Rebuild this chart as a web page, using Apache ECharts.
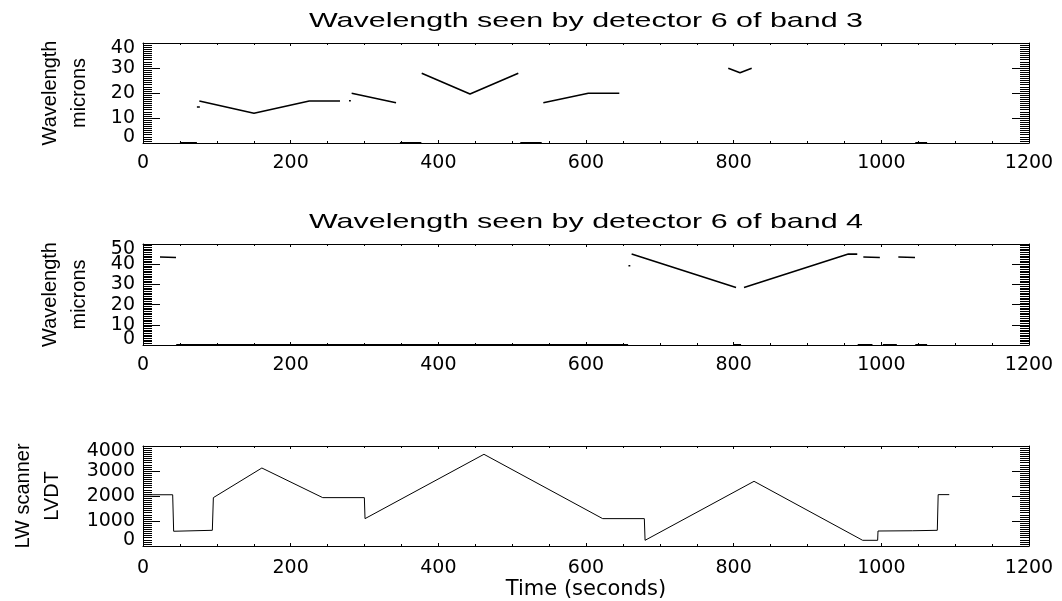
<!DOCTYPE html>
<html>
<head>
<meta charset="utf-8">
<script src="https://cdn.jsdelivr.net/npm/echarts@6/dist/echarts.min.js"></script>
<style>
html,body{margin:0;padding:0;background:#ffffff;}
#chart{width:1062px;height:601px;}
</style>
</head>
<body>
<div id="chart"></div>
<script>
// ---------------- data ----------------
const plotTitles = ['Wavelength seen by detector 6 of band 3', 'Wavelength seen by detector 6 of band 4'];
const timeTicks = [0, 200, 400, 600, 800, 1000, 1200];
const band3Ticks = [0, 10, 20, 30, 40];
const band4Ticks = [0, 10, 20, 30, 40, 50];
const lvdtTicks = [0, 1000, 2000, 3000, 4000];

// band 3 wavelength (microns); null separates segments
const band3Time = [73, 77, null, 76.3, 150.3, 225.2, 266.8, null, 279, 281.5, null, 282.6, 342.7, null,
  377.5, 442.9, 508.3, null, 542.2, 603.1, 645.1, null, 792.7, 808.6, 824.4];
const band3Wave = [14.4, 14.4, null, 16.8, 11.9, 16.8, 16.8, null, 16.9, 16.9, null, 19.9, 16.1, null,
  27.9, 19.6, 27.9, null, 16.1, 19.9, 19.9, null, 29.9, 28.1, 29.9];
// band 3 samples at zero (not seen)
const band3ZeroTime = [50, 73, null, 348, 377, null, 511, 540, null, 1046, 1062];
const band3ZeroWave = [0, 0, null, 0, 0, null, 0, 0, null, 0, 0];

// band 4 wavelength (microns)
const band4Time = [23, 44.7, null, 657.5, 660, null, 661.8, 803.2, null, 814, 955.3, 967.4, null,
  975.6, 998, null, 1023, 1045.6];
const band4Wave = [43.6, 43.3, null, 39.2, 39.2, null, 45, 28.5, null, 28.5, 45, 45, null,
  43.6, 43.3, null, 43.6, 43.3];
const band4ZeroTime = [45, 657, null, 800, 810, null, 968, 988, null, 1002, 1021, null, 1046, 1062];
const band4ZeroWave = [0, 0, null, 0, 0, null, 0, 0, null, 0, 0, null, 0, 0];

// LW scanner LVDT
const lvdtTime = [0, 40.2, 41.5, 93.9, 95.3, 161, 243.4, 299.8, 300.7, 461.8, 622.6, 679, 680,
  827.6, 974.7, 995, 995.5, 1042, 1075.8, 1077, 1092];
const lvdtValue = [2050, 2050, 590, 628, 1935, 3120, 1935, 1935, 1095, 3668, 1095, 1095, 228,
  2588, 228, 228, 600, 610, 628, 2055, 2055];

// ---------------- helpers ----------------
function pairs(t, v) {
  return t.map((x, i) => (x == null || v[i] == null) ? ['-', '-'] : [x, v[i]]);
}
const labelFont = 'DejaVu Sans';
const nameFont = 'Liberation Sans';
const plain = v => String(v);

function xAxisDef(grid, pos, showLabel, margin, name) {
  const a = {
    type: 'value', gridIndex: grid, position: pos,
    min: timeTicks[0], max: timeTicks[timeTicks.length - 1], interval: timeTicks[1] - timeTicks[0],
    axisLine: { show: true, onZero: false, lineStyle: { color: '#000', width: 1 } },
    axisTick: { show: true, inside: true, length: 3, lineStyle: { color: '#000', width: 1 } },
    minorTick: { show: true, splitNumber: 4, length: 2, lineStyle: { color: '#000', width: 1 } },
    splitLine: { show: false }, minorSplitLine: { show: false },
    axisLabel: { show: showLabel, margin: margin || 8, color: '#000', fontSize: 19, fontFamily: labelFont,
      formatter: plain, interval: 0, showMinLabel: true, showMaxLabel: true, hideOverlap: false }
  };
  if (name) {
    a.name = name; a.nameLocation = 'middle'; a.nameGap = 33;
    a.nameTextStyle = { color: '#000', fontSize: 21, fontFamily: labelFont };
  }
  return a;
}
// main y axis (ticks + inner labels)
function yAxisDef(grid, pos, ticks, showLabel, name, nameGap) {
  const min = ticks[0], max = ticks[ticks.length - 1];
  const a = {
    type: 'value', gridIndex: grid, position: pos, min: min, max: max, interval: ticks[1] - ticks[0],
    axisLine: { show: true, onZero: false, lineStyle: { color: '#000', width: 1 } },
    axisTick: { show: true, inside: true, length: 17, lineStyle: { color: '#000', width: 1 } },
    minorTick: { show: true, splitNumber: 12, length: 9, lineStyle: { color: '#000', width: 1 } },
    splitLine: { show: false }, minorSplitLine: { show: false },
    axisLabel: { show: showLabel, margin: 8, color: '#000', fontSize: 19, fontFamily: labelFont,
      formatter: plain, customValues: ticks.slice(1, ticks.length - 1), hideOverlap: false }
  };
  if (name) {
    a.name = name; a.nameLocation = 'middle'; a.nameRotate = 90; a.nameGap = nameGap;
    a.nameTextStyle = { color: '#000', fontSize: 20, fontFamily: nameFont, lineHeight: 29 };
  }
  return a;
}
// overlay y axis carrying only the extreme labels, nudged inward as in the original plot
function yEdgeLabels(grid, ticks) {
  const min = ticks[0], max = ticks[ticks.length - 1];
  return {
    type: 'value', gridIndex: grid, position: 'left', offset: 0, min: min, max: max,
    interval: ticks[1] - ticks[0],
    axisLine: { show: false }, axisTick: { show: false }, minorTick: { show: false },
    splitLine: { show: false }, minorSplitLine: { show: false },
    axisLabel: { show: true, margin: 8, color: '#000', fontSize: 19, fontFamily: labelFont,
      customValues: [min, max], hideOverlap: false, showMinLabel: true, showMaxLabel: true,
      formatter: v => v === min ? '{lo|' + v + '}' : '{hi|' + v + '}',
      rich: {
        lo: { fontSize: 19, fontFamily: labelFont, color: '#000', padding: [0, 0, 12, 0] },
        hi: { fontSize: 19, fontFamily: labelFont, color: '#000', padding: [11, 0, 0, 0] }
      } }
  };
}
function lineSeries(xi, yi, data, width, clip) {
  return {
    type: 'line', xAxisIndex: xi, yAxisIndex: yi, data: data,
    showSymbol: false, symbol: 'none', connectNulls: false, clip: clip, silent: true,
    lineStyle: { color: '#000', width: width }, animation: false
  };
}

const chart = echarts.init(document.getElementById('chart'), null, { renderer: 'canvas' });
const option = {
  backgroundColor: '#ffffff',
  animation: false,
  grid: [
    { left: 143, right: 33, top: 43, height: 100, containLabel: false, outerBoundsMode: 'none' },
    { left: 143, right: 33, top: 244, height: 101, containLabel: false, outerBoundsMode: 'none' },
    { left: 143, right: 33, top: 446, height: 100, containLabel: false, outerBoundsMode: 'none' }
  ],
  xAxis: [
    xAxisDef(0, 'bottom', true, 11), xAxisDef(0, 'top', false),
    xAxisDef(1, 'bottom', true, 11), xAxisDef(1, 'top', false),
    xAxisDef(2, 'bottom', true, 13, 'Time (seconds)'), xAxisDef(2, 'top', false)
  ],
  yAxis: [
    yAxisDef(0, 'left', band3Ticks, true, 'Wavelength\nmicrons', 49),
    yAxisDef(0, 'right', band3Ticks, false),
    yEdgeLabels(0, band3Ticks),
    yAxisDef(1, 'left', band4Ticks, true, 'Wavelength\nmicrons', 49),
    yAxisDef(1, 'right', band4Ticks, false),
    yEdgeLabels(1, band4Ticks),
    yAxisDef(2, 'left', lvdtTicks, true, 'LW scanner\nLVDT', 76),
    yAxisDef(2, 'right', lvdtTicks, false),
    yEdgeLabels(2, lvdtTicks)
  ],
  graphic: [
    { type: 'text', x: 586, y: 21.5, scaleX: 1.45, silent: true,
      style: { text: plotTitles[0], fontSize: 21, fontFamily: nameFont, fill: '#000',
        align: 'center', verticalAlign: 'middle', textAlign: 'center', textVerticalAlign: 'middle' } },
    { type: 'text', x: 586, y: 222.5, scaleX: 1.45, silent: true,
      style: { text: plotTitles[1], fontSize: 21, fontFamily: nameFont, fill: '#000',
        align: 'center', verticalAlign: 'middle', textAlign: 'center', textVerticalAlign: 'middle' } }
  ],
  series: [
    lineSeries(0, 0, pairs(band3Time, band3Wave), 1.6, true),
    lineSeries(0, 0, pairs(band3ZeroTime, band3ZeroWave), 2, false),
    lineSeries(2, 3, pairs(band4Time, band4Wave), 1.6, true),
    lineSeries(2, 3, pairs(band4ZeroTime, band4ZeroWave), 2, false),
    lineSeries(4, 6, pairs(lvdtTime, lvdtValue), 1, true)
  ]
};
chart.setOption(option);
</script>
</body>
</html>
